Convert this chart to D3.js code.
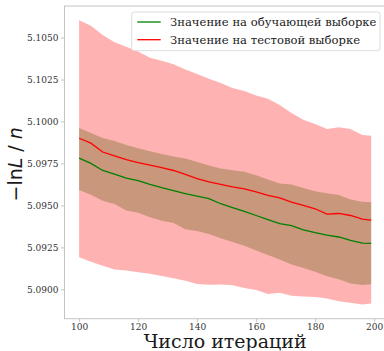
<!DOCTYPE html>
<html>
<head>
<meta charset="utf-8">
<script src="https://cdn.jsdelivr.net/npm/d3@7"></script>
<style>
  body { margin: 0; background: #fff; }
  svg { display: block; }
</style>
</head>
<body>
<div id="chart"></div>
<script>
var iters = [100, 104, 108, 112, 116, 120, 124, 128, 132, 136, 140, 144, 148,
             152, 156, 160, 164, 168, 172, 176, 180, 184, 188, 192, 196, 199];

// training sample: mean and band
var trainMean = [5.09782, 5.09750, 5.09708, 5.09686, 5.09662, 5.09648, 5.09626, 5.09606,
                 5.09588, 5.09570, 5.09556, 5.09540, 5.09510, 5.09487, 5.09465, 5.09440,
                 5.09415, 5.09392, 5.09380, 5.09355, 5.09338, 5.09323, 5.09312, 5.09292,
                 5.09276, 5.09274];
var trainHi = [5.09961, 5.09931, 5.09902, 5.09884, 5.09860, 5.09840, 5.09822, 5.09806,
               5.09792, 5.09780, 5.09758, 5.09737, 5.09720, 5.09710, 5.09700, 5.09680,
               5.09655, 5.09630, 5.09624, 5.09604, 5.09585, 5.09572, 5.09562, 5.09535,
               5.09522, 5.09519];
var trainLo = [5.09592, 5.09563, 5.09528, 5.09508, 5.09470, 5.09456, 5.09430, 5.09408,
               5.09395, 5.09358, 5.09347, 5.09330, 5.09305, 5.09282, 5.09260, 5.09232,
               5.09205, 5.09178, 5.09148, 5.09128, 5.09105, 5.09078, 5.09060, 5.09035,
               5.09026, 5.09030];

// test sample: mean and band
var testMean = [5.09900, 5.09871, 5.09818, 5.09795, 5.09773, 5.09755, 5.09740, 5.09725,
                5.09708, 5.09685, 5.09660, 5.09640, 5.09625, 5.09610, 5.09598, 5.09580,
                5.09560, 5.09545, 5.09520, 5.09500, 5.09480, 5.09448, 5.09452, 5.09440,
                5.09418, 5.09413];
var testHi = [5.10603, 5.10570, 5.10515, 5.10472, 5.10445, 5.10417, 5.10380, 5.10362,
              5.10340, 5.10310, 5.10283, 5.10255, 5.10229, 5.10199, 5.10182, 5.10155,
              5.10136, 5.10098, 5.10050, 5.10010, 5.09985, 5.09955, 5.09965, 5.09955,
              5.09920, 5.09915];
var testLo = [5.09191, 5.09165, 5.09140, 5.09118, 5.09113, 5.09102, 5.09093, 5.09080,
              5.09066, 5.09052, 5.09032, 5.09028, 5.09029, 5.09025, 5.09008, 5.08996,
              5.08973, 5.08980, 5.08962, 5.08958, 5.08955, 5.08945, 5.08930, 5.08920,
              5.08910, 5.08916];

var xTicks = [100, 120, 140, 160, 180, 200];
var yTicks = [5.0900, 5.0925, 5.0950, 5.0975, 5.1000, 5.1025, 5.1050];
var legendLabels = ["Значение на обучающей выборке", "Значение на тестовой выборке"];
var xLabel = "Число итераций";

var W = 384, H = 351;
var plotL = 64.5, plotR = 385.8, plotT = 6, plotB = 318.7;

var svg = d3.select("#chart").append("svg")
  .attr("width", W)
  .attr("height", H);
svg.append("rect").attr("width", W).attr("height", H).attr("fill", "#fff");

// matplotlib-like 5% margins
var xPad = (d3.max(iters) - d3.min(iters)) * 0.05;
var yMin = d3.min(testLo.concat(trainLo)), yMax = d3.max(testHi.concat(trainHi));
var yPad = (yMax - yMin) * 0.05;

var x = d3.scaleLinear().domain([d3.min(iters) - xPad, d3.max(iters) + xPad]).range([plotL, plotR]);
var y = d3.scaleLinear().domain([yMin - yPad, yMax + yPad]).range([plotB, plotT]);

function band(lo, hi) {
  return d3.area()
    .x(function (d, i) { return x(iters[i]); })
    .y0(function (d, i) { return y(lo[i]); })
    .y1(function (d, i) { return y(hi[i]); })(iters);
}
function line(vals) {
  return d3.line()
    .x(function (d, i) { return x(iters[i]); })
    .y(function (d) { return y(d); })(vals);
}

// bands
svg.append("path").attr("d", band(trainLo, trainHi)).attr("fill", "green").attr("fill-opacity", 0.3);
svg.append("path").attr("d", band(testLo, testHi)).attr("fill", "red").attr("fill-opacity", 0.3);

// mean lines
svg.append("path").attr("d", line(trainMean)).attr("fill", "none")
  .attr("stroke", "green").attr("stroke-width", 1.3);
svg.append("path").attr("d", line(testMean)).attr("fill", "none")
  .attr("stroke", "red").attr("stroke-width", 1.3);

// frame
svg.append("rect")
  .attr("x", plotL).attr("y", plotT)
  .attr("width", plotR - plotL).attr("height", plotB - plotT)
  .attr("fill", "none").attr("stroke", "#c4c4c4").attr("stroke-width", 1);

// axes
var gx = svg.append("g")
  .attr("transform", "translate(0," + plotB + ")")
  .call(d3.axisBottom(x).tickValues(xTicks).tickSize(3.5).tickPadding(1.5).tickFormat(d3.format("d")));
var gy = svg.append("g")
  .attr("transform", "translate(" + plotL + ",0)")
  .call(d3.axisLeft(y).tickValues(yTicks).tickSize(3.5).tickPadding(2.5).tickFormat(d3.format(".4f")));

[gx, gy].forEach(function (g) {
  g.select(".domain").remove();
  g.selectAll(".tick line").attr("stroke", "#c4c4c4");
  g.selectAll(".tick text")
    .attr("fill", "#333")
    .style("font-family", "DejaVu Serif")
    .style("font-size", "9px");
});

// axis labels
svg.append("text")
  .attr("x", (plotL + plotR) / 2)
  .attr("y", 348)
  .attr("text-anchor", "middle")
  .attr("fill", "#1a1a1a")
  .style("font-family", "DejaVu Serif")
  .style("font-size", "19px")
  .text(xLabel);

var yl = svg.append("text")
  .attr("transform", "translate(21.5," + ((plotT + plotB) / 2 + 2) + ") rotate(-90)")
  .attr("text-anchor", "middle")
  .attr("fill", "#1a1a1a")
  .style("font-family", "DejaVu Sans")
  .style("font-size", "19px");
yl.append("tspan").text("\u2212ln");
yl.append("tspan").style("font-style", "italic").text("L");
yl.append("tspan").text(" / ");
yl.append("tspan").style("font-style", "italic").text("n");

// legend
var lg = svg.append("g");
lg.append("rect")
  .attr("x", 131.7).attr("y", 12)
  .attr("width", 248.3).attr("height", 38.7)
  .attr("rx", 2.5)
  .attr("fill", "#fff").attr("fill-opacity", 0.8)
  .attr("stroke", "#dcdcdc").attr("stroke-width", 1);
var legendColors = ["green", "red"];
legendLabels.forEach(function (lab, i) {
  var ly = 22 + i * 17.7;
  lg.append("line")
    .attr("x1", 137.3).attr("x2", 160.7)
    .attr("y1", ly).attr("y2", ly)
    .attr("stroke", legendColors[i]).attr("stroke-width", 1.3);
  lg.append("text")
    .attr("x", 170).attr("y", ly + 4.2)
    .attr("fill", "#1a1a1a")
    .style("font-family", "DejaVu Serif")
    .style("font-size", "11.6px")
    .text(lab);
});
</script>
</body>
</html>
